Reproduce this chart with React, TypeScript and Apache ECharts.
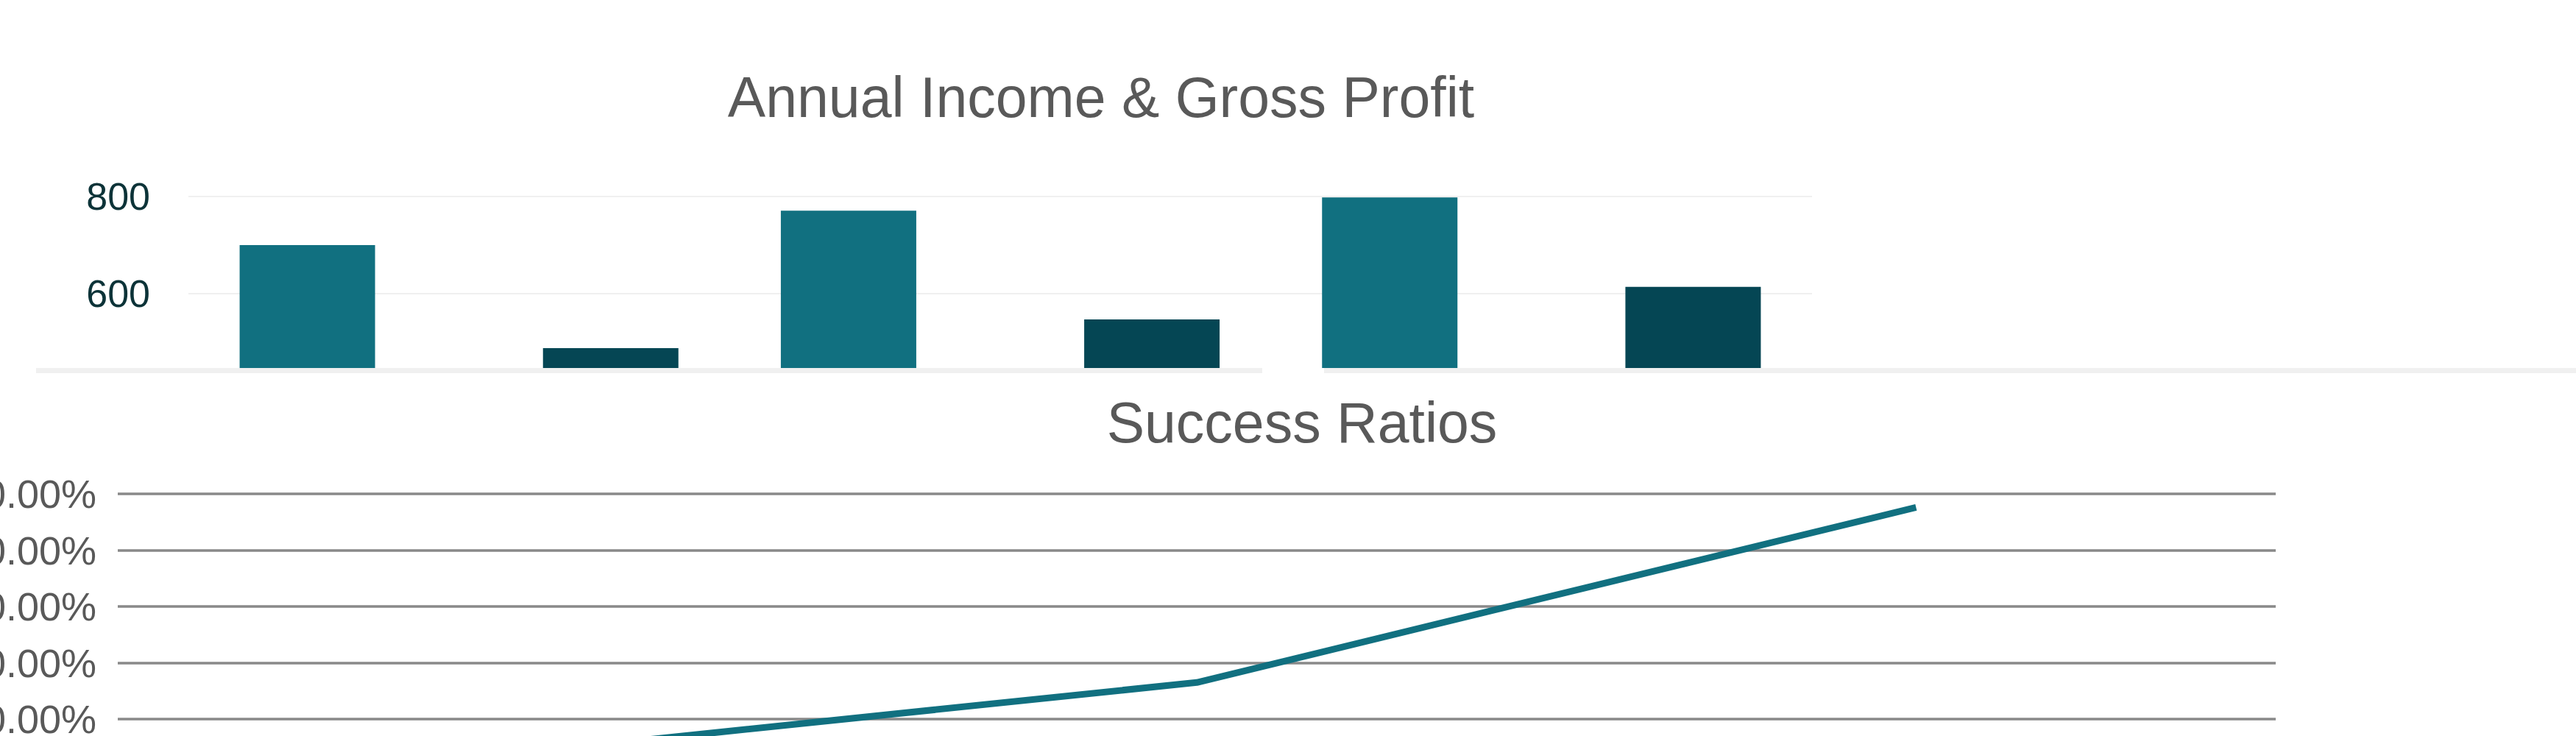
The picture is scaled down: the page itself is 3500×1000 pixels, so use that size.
import React, { useEffect, useRef } from "react";
import * as echarts from "echarts";

// ---- Data ----
const incomeCategories = ["2019", "2020", "2021"];
const annualIncome = [700, 771, 798];
const grossProfit = [488, 547, 614];
const incomeAxisMin = 0;
const incomeAxisMax = 800;
const incomeAxisStep = 200;
// tick labels that lie in the visible (uncropped) part of the chart
const incomeTickLabels = [600, 800];

const ratioCategories = ["2019", "2020", "2021"];
const successRatio = [3.2, 16.5, 47.6];
const ratioAxisMin = 0;
const ratioAxisMax = 50;
const ratioAxisStep = 10;
const ratioTickLabels = [10, 20, 30, 40, 50];

const FONT = "'Liberation Sans', Arial, Helvetica, sans-serif";
const TEAL = "#117080";
const DARK_TEAL = "#054654";

export default function App() {
  const topRef = useRef<HTMLDivElement>(null);
  const bottomRef = useRef<HTMLDivElement>(null);

  useEffect(() => {
    document.body.style.margin = "0";
    const top = echarts.init(topRef.current!, null, { renderer: "svg" });
    top.setOption({
      animation: false,
      title: {
        text: "Annual Income & Gross Profit",
        left: 1496,
        top: 93,
        textAlign: "center",
        padding: 0,
        textStyle: { fontFamily: FONT, fontSize: 77, fontWeight: "normal", color: "#595959" },
      },
      grid: { left: 256, right: 1038, top: 267, bottom: 105, outerBoundsMode: "none", containLabel: false },
      xAxis: {
        type: "category",
        data: incomeCategories,
        axisLine: { show: false },
        axisTick: { show: false },
        axisLabel: { show: false },
      },
      yAxis: {
        type: "value",
        min: incomeAxisMin,
        max: incomeAxisMax,
        interval: incomeAxisStep,
        axisLine: { show: false },
        axisTick: { show: false },
        axisLabel: {
          fontFamily: FONT,
          fontSize: 52,
          color: "#0C3338",
          margin: 52,
          formatter: (v: number) => (incomeTickLabels.includes(v) ? String(v) : ""),
        },
        splitLine: { lineStyle: { color: "#F0F0F0", width: 2 } },
      },
      series: [
        {
          name: "Annual Income",
          type: "bar",
          data: annualIncome,
          barWidth: 184,
          barGap: "124%",
          itemStyle: { color: TEAL },
        },
        {
          name: "Gross Profit",
          type: "bar",
          data: grossProfit,
          barWidth: 184,
          itemStyle: { color: DARK_TEAL },
        },
      ],
    });

    const bottom = echarts.init(bottomRef.current!, null, { renderer: "svg" });
    bottom.setOption({
      animation: false,
      title: {
        text: "Success Ratios",
        left: 1769,
        top: 28,
        textAlign: "center",
        padding: 0,
        textStyle: { fontFamily: FONT, fontSize: 77, fontWeight: "normal", color: "#595959" },
      },
      grid: { left: 160, right: 408, top: 164, bottom: 153.5, outerBoundsMode: "none", containLabel: false },
      xAxis: {
        type: "category",
        data: ratioCategories,
        axisLine: { show: false },
        axisTick: { show: false },
        axisLabel: { show: false },
      },
      yAxis: {
        type: "value",
        min: ratioAxisMin,
        max: ratioAxisMax,
        interval: ratioAxisStep,
        axisLine: { show: false },
        axisTick: { show: false },
        axisLabel: {
          fontFamily: FONT,
          fontSize: 54,
          color: "#595959",
          margin: 29,
          formatter: (v: number) => (ratioTickLabels.includes(v) ? v.toFixed(2) + "%" : ""),
        },
        splitLine: { lineStyle: { color: "#898989", width: 3.5 } },
      },
      series: [
        {
          name: "Success Ratio",
          type: "line",
          data: successRatio,
          symbol: "none",
          lineStyle: { color: TEAL, width: 9 },
          z: 5,
        },
      ],
    });

    return () => {
      top.dispose();
      bottom.dispose();
    };
  }, []);

  return (
    <div
      style={{
        position: "fixed",
        left: 0,
        top: 0,
        width: 3500,
        height: 1000,
        overflow: "hidden",
        background: "#ffffff",
      }}
    >
      <div style={{ position: "absolute", left: 0, top: 0, width: 3500, height: 500, overflow: "hidden" }}>
        <div ref={topRef} style={{ width: 3500, height: 900 }} />
      </div>
      <div style={{ position: "absolute", left: 49, top: 500, width: 1666, height: 7, background: "#F0F0F0" }} />
      <div style={{ position: "absolute", left: 1799, top: 500, width: 1701, height: 7, background: "#F0F0F0" }} />
      <div style={{ position: "absolute", left: 0, top: 507, width: 3500, height: 493, overflow: "hidden" }}>
        <div ref={bottomRef} style={{ width: 3500, height: 700 }} />
      </div>
    </div>
  );
}
